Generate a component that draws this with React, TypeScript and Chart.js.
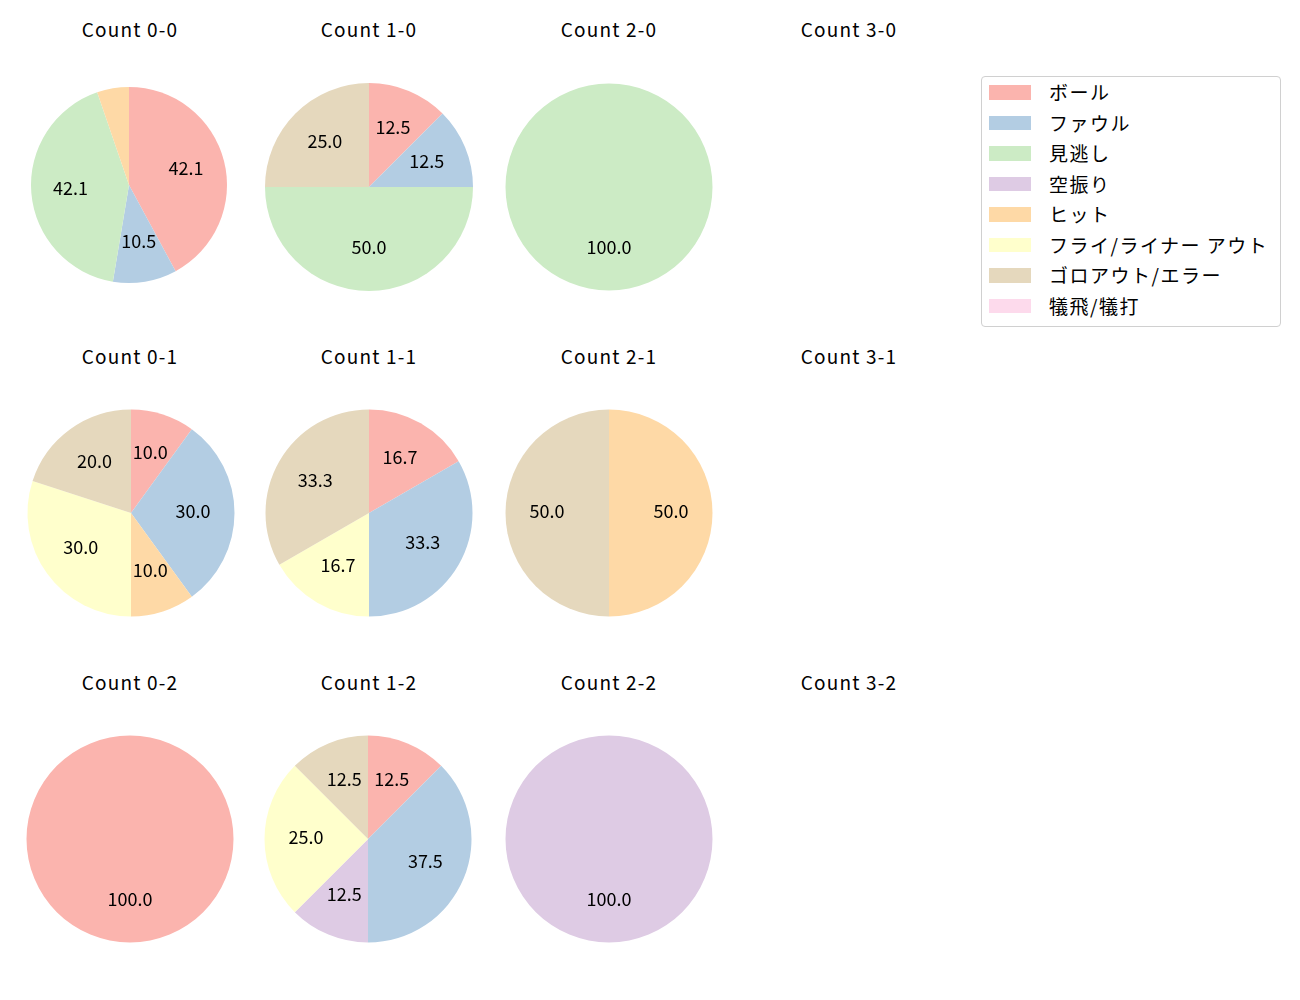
import React, { useEffect, useRef } from "react";
import { Chart, registerables } from "chart.js";

Chart.register(...registerables);

const categories = ["ボール", "ファウル", "見逃し", "空振り", "ヒット", "フライ/ライナー アウト", "ゴロアウト/エラー", "犠飛/犠打"];
const colors = ["#fbb4ae", "#b3cde3", "#ccebc5", "#decbe4", "#fed9a6", "#ffffcc", "#e5d8bd", "#fddaec"];

const titles = [
  ["Count 0-0", "Count 1-0", "Count 2-0", "Count 3-0"],
  ["Count 0-1", "Count 1-1", "Count 2-1", "Count 3-1"],
  ["Count 0-2", "Count 1-2", "Count 2-2", "Count 3-2"],
];

const count00 = [8, 2, 8, 0, 1, 0, 0, 0];
const count10 = [1, 1, 4, 0, 0, 0, 2, 0];
const count20 = [0, 0, 1, 0, 0, 0, 0, 0];
const count01 = [1, 3, 0, 0, 1, 3, 2, 0];
const count11 = [1, 2, 0, 0, 0, 1, 2, 0];
const count21 = [0, 0, 0, 0, 1, 0, 1, 0];
const count02 = [1, 0, 0, 0, 0, 0, 0, 0];
const count12 = [1, 3, 0, 1, 0, 2, 1, 0];
const count22 = [0, 0, 0, 1, 0, 0, 0, 0];

const FONT = "'Noto Sans CJK JP', 'Noto Sans', sans-serif";

type PieSpec = { data: number[]; cx: number; cy: number; r: number };

const pies: PieSpec[] = [
  { data: count00, cx: 129, cy: 185, r: 98 },
  { data: count10, cx: 369, cy: 186.5, r: 104 },
  { data: count20, cx: 608.5, cy: 186.5, r: 103.5 },
  { data: count01, cx: 130.5, cy: 512.5, r: 103.5 },
  { data: count11, cx: 369, cy: 512.5, r: 103.5 },
  { data: count21, cx: 608.5, cy: 512.5, r: 103.5 },
  { data: count02, cx: 129.5, cy: 838.5, r: 103.5 },
  { data: count12, cx: 368, cy: 838.5, r: 103.5 },
  { data: count22, cx: 608.5, cy: 838.5, r: 103.5 },
];

const colX = [130, 369, 609, 849];
const rowY = [29, 356, 682];

const pctLabels = {
  id: "pctLabels",
  afterDatasetsDraw(chart: any) {
    const ctx = chart.ctx;
    const meta = chart.getDatasetMeta(0);
    const vals: number[] = chart.data.datasets[0].data;
    const total = vals.reduce((a, b) => a + b, 0);
    ctx.save();
    ctx.font = `18px ${FONT}`;
    ctx.fillStyle = "#000";
    ctx.textAlign = "center";
    ctx.textBaseline = "middle";
    meta.data.forEach((arc: any, i: number) => {
      const pct = (vals[i] / total) * 100;
      if (pct < 7) return;
      const p = arc.getProps(["x", "y", "startAngle", "endAngle", "outerRadius"], true);
      const mid = (p.startAngle + p.endAngle) / 2;
      const rr = p.outerRadius * 0.6;
      ctx.fillText(pct.toFixed(1), p.x + Math.cos(mid) * rr, p.y + Math.sin(mid) * rr - 2);
    });
    ctx.restore();
  },
};

const SIZE = 240;

function Pie({ spec }: { spec: PieSpec }) {
  const ref = useRef<HTMLCanvasElement>(null);
  useEffect(() => {
    if (!ref.current) return;
    const chart = new Chart(ref.current, {
      type: "pie",
      data: {
        labels: categories,
        datasets: [{ data: spec.data, backgroundColor: colors, borderWidth: 0 }],
      },
      options: {
        responsive: false,
        animation: false,
        radius: spec.r,
        layout: { padding: 0 },
        plugins: { legend: { display: false }, tooltip: { enabled: false }, title: { display: false } },
      } as any,
      plugins: [pctLabels],
    });
    return () => chart.destroy();
  }, [spec]);
  return (
    <canvas
      ref={ref}
      width={SIZE}
      height={SIZE}
      style={{ position: "absolute", left: spec.cx - SIZE / 2, top: spec.cy - SIZE / 2, width: SIZE, height: SIZE }}
    />
  );
}

export default function App() {
  return (
    <div style={{ position: "absolute", left: 0, top: 0, width: 1300, height: 1000, background: "#fff", fontFamily: FONT }}>
      {titles.map((row, ri) =>
        row.map((t, ci) => (
          <div
            key={t}
            style={{
              position: "absolute",
              left: colX[ci] - 100,
              width: 200,
              top: rowY[ri] - 15,
              height: 30,
              lineHeight: "30px",
              textAlign: "center",
              fontSize: 19,
              letterSpacing: "1.2px",
              color: "#000",
            }}
          >
            {t}
          </div>
        ))
      )}
      {pies.map((p, i) => (
        <Pie key={i} spec={p} />
      ))}
      <div
        style={{
          position: "absolute",
          left: 981,
          top: 76,
          width: 298,
          height: 249,
          border: "1px solid #d0d0d0",
          borderRadius: 4,
          boxSizing: "content-box",
        }}
      >
        {categories.map((c, i) => (
          <div key={c} style={{ position: "absolute", left: 0, top: 15 + i * 30.57 - 15, height: 30, width: 298 }}>
            <div style={{ position: "absolute", left: 7, top: 8, width: 42, height: 14.5, background: colors[i] }} />
            <div
              style={{
                position: "absolute",
                left: 67,
                top: 0,
                lineHeight: "30px",
                fontSize: 19,
                letterSpacing: "1.5px",
                color: "#000",
                whiteSpace: "nowrap",
              }}
            >
              {c}
            </div>
          </div>
        ))}
      </div>
    </div>
  );
}
